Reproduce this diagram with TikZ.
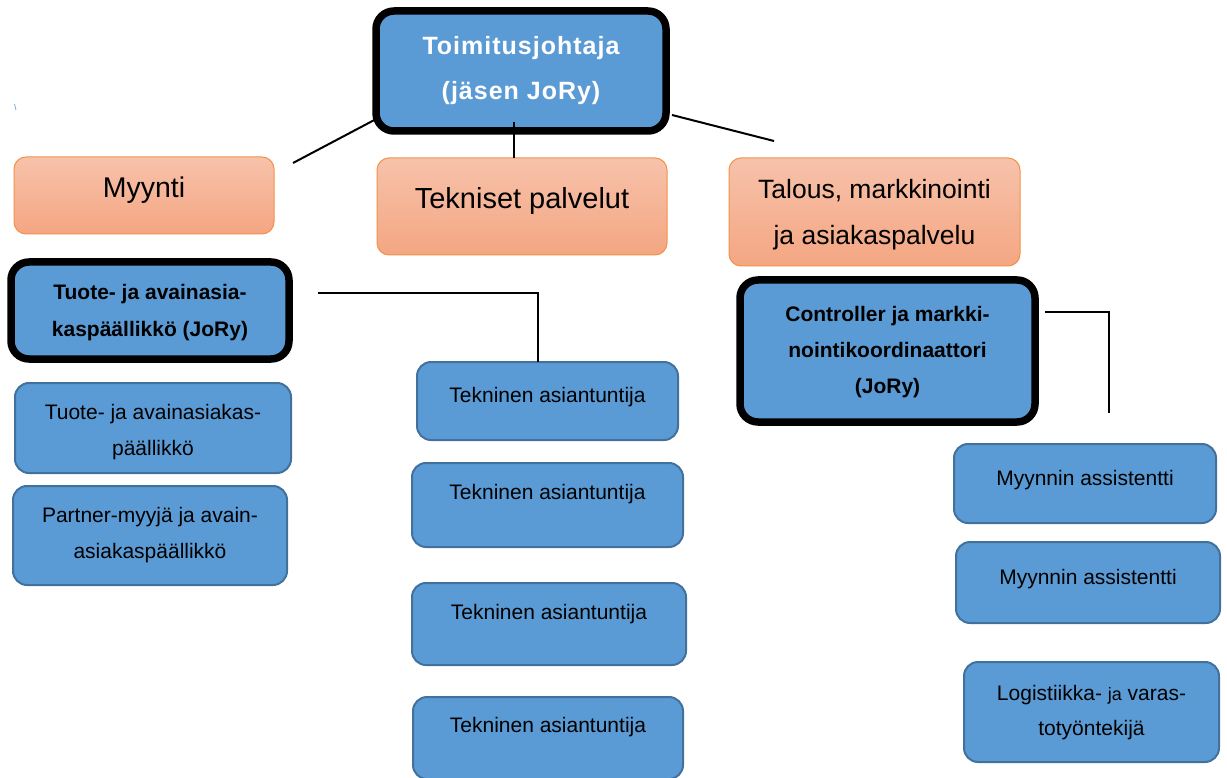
\documentclass[tikz,border=0pt]{standalone}
\usepackage{fontspec}
\setmainfont{Liberation Sans}
\definecolor{myblue}{HTML}{5B9BD5}
\definecolor{mybluebd}{HTML}{41719C}
\definecolor{orTop}{HTML}{F7C2AB}
\definecolor{orBot}{HTML}{F4A682}
\definecolor{orBd}{HTML}{F2914A}
\definecolor{tick}{HTML}{7FA8D8}
\tikzset{
  boxbase/.style={rectangle, inner sep=0pt, outer sep=0pt},
  bluebox/.style={boxbase, rounded corners=14pt, fill=myblue, draw=mybluebd, line width=2pt},
  bossbox/.style={boxbase, rounded corners=18pt, fill=myblue, draw=black, line width=7.5pt},
  orangebox/.style={boxbase, rounded corners=12pt, top color=orTop, bottom color=orBot, draw=orBd, line width=1pt},
  conn/.style={draw=black, line width=2pt},
  lbl/.style={anchor=base, inner sep=0pt, font=\fontsize{21}{25}\selectfont},
  blbl/.style={anchor=base, inner sep=0pt, font=\fontsize{21}{25}\selectfont\bfseries},
  wlbl/.style={anchor=base, inner sep=0pt, text=white, font=\fontsize{25}{30}\selectfont\bfseries\addfontfeature{LetterSpace=4}},
}
\begin{document}
\begin{tikzpicture}[x=1pt,y=-1pt]
\useasboundingbox (0,0) rectangle (1227,778);

% boxes
\node[bossbox, minimum width=290pt, minimum height=120pt] (ceo) at (521,71) {};
\node[orangebox, minimum width=260pt, minimum height=77pt] (myy) at (144,195.5) {};
\node[orangebox, minimum width=290pt, minimum height=97pt] (tek) at (522,206.5) {};
\node[orangebox, minimum width=291pt, minimum height=108pt] (tal) at (874.5,212) {};
\node[bossbox, minimum width=278pt, minimum height=97pt] (tap) at (150,310.5) {};
\node[bossbox, minimum width=295pt, minimum height=142pt] (con) at (887.5,351) {};
\node[bluebox, minimum width=276pt, minimum height=90pt] (ta1) at (153,428) {};
\node[bluebox, minimum width=274pt, minimum height=99pt] (pa1) at (150,535.5) {};
\node[bluebox, minimum width=261pt, minimum height=78pt] (tn1) at (547.5,401) {};
\node[bluebox, minimum width=271pt, minimum height=84pt] (tn2) at (547.5,505) {};
\node[bluebox, minimum width=274pt, minimum height=82pt] (tn3) at (549,624) {};
\node[bluebox, minimum width=270pt, minimum height=82pt] (tn4) at (548,738) {};
\node[bluebox, minimum width=262pt, minimum height=79pt] (my1) at (1085,483.5) {};
\node[bluebox, minimum width=264pt, minimum height=81pt] (my2) at (1088,582.5) {};
\node[bluebox, minimum width=255pt, minimum height=100pt] (log) at (1091.5,712) {};

% texts
\node[wlbl] (ceoA) at (521,55) {Toimitusjohtaja};
\node[wlbl] (ceoB) at (521,100) {(jäsen JoRy)};
\node[anchor=base, inner sep=0pt, font=\fontsize{28.5}{30}\selectfont] (myyA) at (144,198) {Myynti};
\node[anchor=base, inner sep=0pt, font=\fontsize{29}{30}\selectfont] (tekA) at (522,209) {Tekniset palvelut};
\node[anchor=base, inner sep=0pt, font=\fontsize{26.5}{30}\selectfont] (talA) at (874.5,199) {Talous, markkinointi};
\node[anchor=base, inner sep=0pt, font=\fontsize{26.5}{30}\selectfont] (talB) at (874.5,245) {ja asiakaspalvelu};
\node[blbl] (tapA) at (150,300) {Tuote- ja avainasia-};
\node[blbl] (tapB) at (150,337) {kaspäällikkö (JoRy)};
\node[blbl] (conA) at (887.5,321) {Controller ja markki-};
\node[blbl] (conB) at (887.5,357) {nointikoordinaattori};
\node[blbl] (conC) at (887.5,393) {(JoRy)};
\node[lbl] (ta1A) at (153,419) {Tuote- ja avainasiakas-};
\node[lbl] (ta1B) at (153,455) {päällikkö};
\node[lbl] (pa1A) at (150,522) {Partner-myyjä ja avain-};
\node[lbl] (pa1B) at (150,558) {asiakaspäällikkö};
\node[lbl] (tn1A) at (547.5,402) {Tekninen asiantuntija};
\node[lbl] (tn2A) at (547.5,499) {Tekninen asiantuntija};
\node[lbl] (tn3A) at (549,619) {Tekninen asiantuntija};
\node[lbl] (tn4A) at (548,732) {Tekninen asiantuntija};
\node[lbl] (my1A) at (1085,485) {Myynnin assistentti};
\node[lbl] (my2A) at (1088,584) {Myynnin assistentti};
\node[lbl] (logA) at (1091.5,700) {Logistiikka- {\fontsize{18}{20}\selectfont ja} varas-};
\node[lbl] (logB) at (1091.5,735) {totyöntekijä};

% connectors
\coordinate (c1a) at (293,163);
\coordinate (c1b) at (380,117);
\draw[conn] (c1a) -- (c1b);
\coordinate (c2) at (514,122);
\draw[conn] (c2) -- (c2 |- tek.north);
\coordinate (c3a) at (672,115);
\coordinate (c3b) at (774,141);
\draw[conn] (c3a) -- (c3b);
\coordinate (c4a) at (318,293);
\coordinate (c4b) at (538,293);
\draw[conn] (c4a) -- (c4b) -- (c4b |- tn1.north);
\coordinate (c5a) at (1045,312);
\coordinate (c5b) at (1109,312);
\coordinate (c5c) at (1109,413);
\draw[conn] (c5a) -- (c5b) -- (c5c);

% small stray mark
\coordinate (s1) at (14.5,104);
\coordinate (s2) at (16,110);
\draw[tick, line width=0.8pt] (s1) -- (s2);
\end{tikzpicture}
\end{document}
